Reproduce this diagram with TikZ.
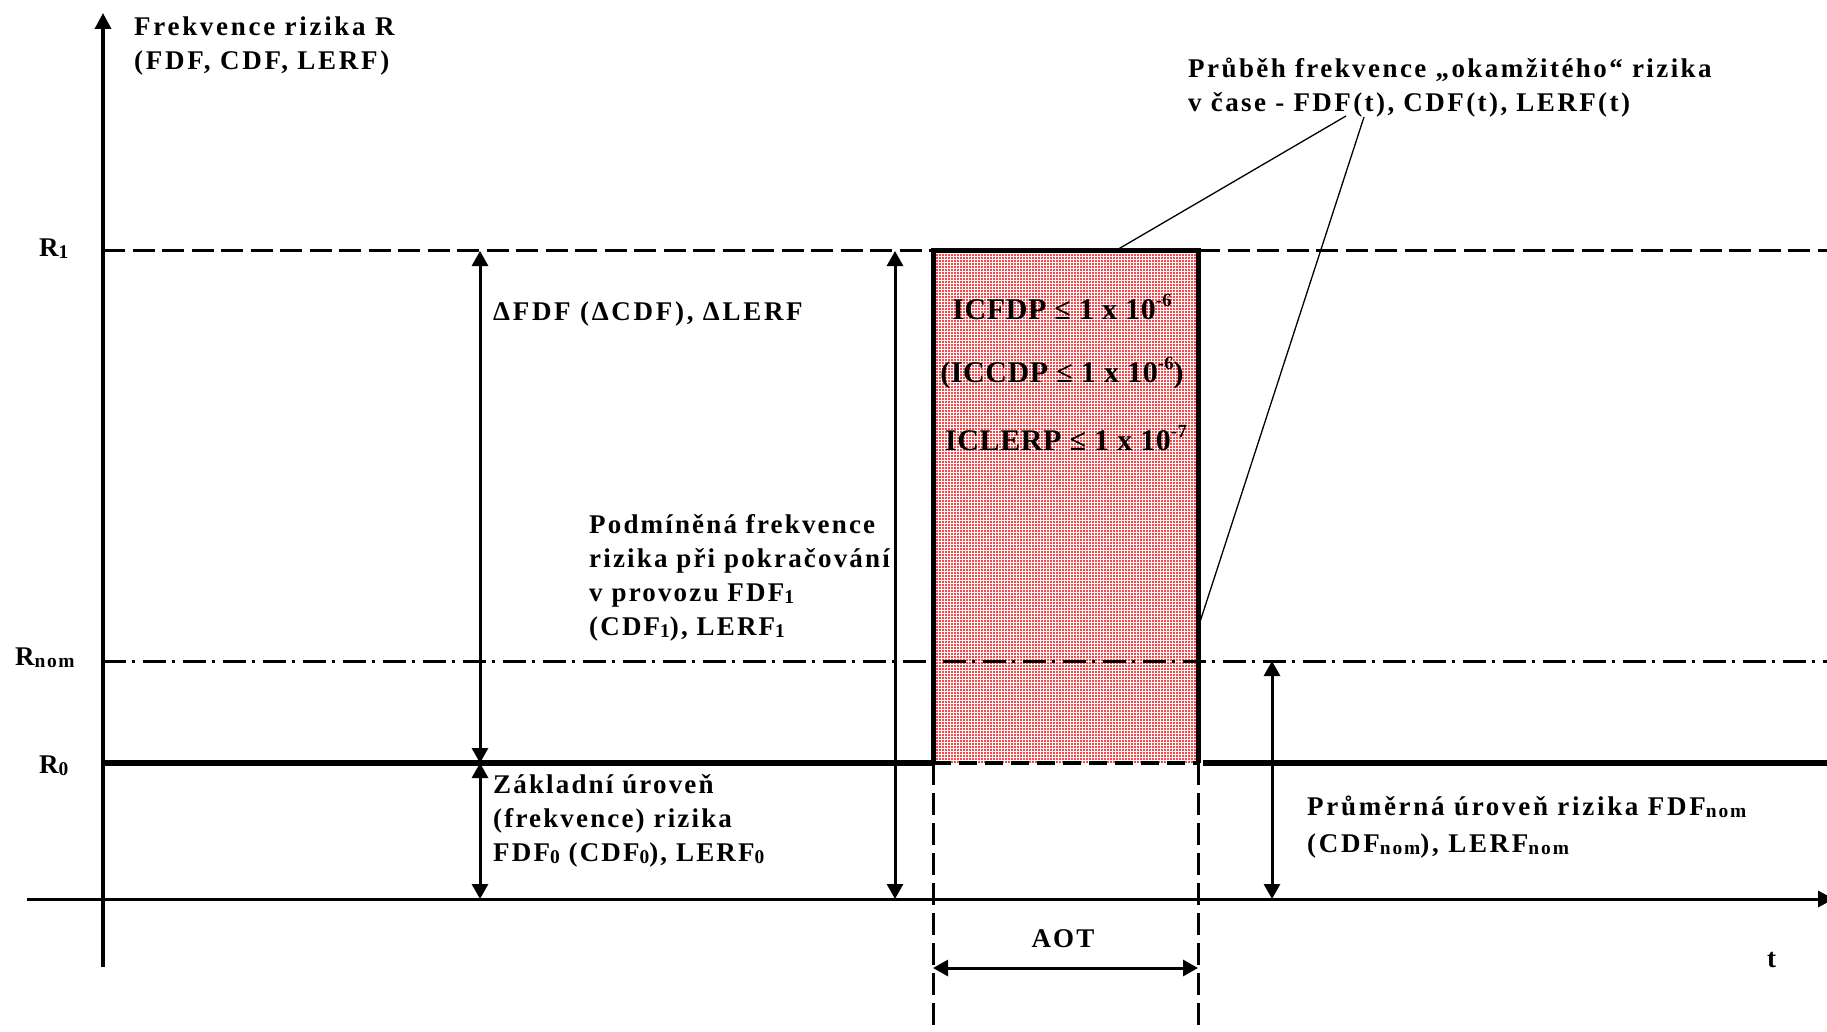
\documentclass[tikz,border=0pt]{standalone}
\usepackage{fontspec}
\setmainfont{Liberation Serif}
\usetikzlibrary{arrows.meta}

% small lowered / raised indices set in the running text font
\newcommand\lowidx[1]{\raisebox{-0.2ex}{\scalebox{0.72}{#1}}}
\newcommand\highidx[1]{\raisebox{0.9ex}{\scalebox{0.62}{#1}}}
% multi-line label whose reference point is the first baseline
\newcommand\rows[1]{\begin{tabular}[t]{@{}l@{}}#1\end{tabular}}

\definecolor{boxred}{RGB}{250,70,70}

\begin{document}
\begin{tikzpicture}[x=1pt,y=-1pt,
  axisline/.style={line width=3.5pt},
  level/.style={line width=6pt},
  dashlevel/.style={line width=3pt, dash pattern=on 22pt off 7.5pt},
  nomlevel/.style={line width=3pt, dash pattern=on 23pt off 6pt on 3pt off 8pt},
  guide/.style={line width=3pt, dash pattern=on 22pt off 8pt},
  boxedge/.style={line width=5pt, line join=miter},
  dim/.style={line width=3pt, {Triangle[length=15pt,width=16pt]}-{Triangle[length=15pt,width=16pt]}},
  leader/.style={line width=1.3pt},
  lbl/.style={inner sep=0pt, anchor=base west,
    font=\bfseries\fontsize{27}{34}\selectfont\addfontfeatures{LetterSpace=8}},
  widelbl/.style={lbl, font=\bfseries\fontsize{27}{34}\selectfont\addfontfeatures{LetterSpace=10}},
  boxtxt/.style={inner sep=0pt, anchor=base,
    font=\bfseries\fontsize{30}{34}\selectfont\addfontfeatures{LetterSpace=2}},
]
\useasboundingbox (0,0) rectangle (1827,1032);

% key points
\coordinate (Ybot) at (103,967);
\coordinate (Ytop) at (103,13);
\coordinate (Xl) at (27,899);
\coordinate (Xr) at (1834,899);
\coordinate (R1l) at (103,251);
\coordinate (R1r) at (1827,251);
\coordinate (Rnl) at (103,661);
\coordinate (Rnr) at (1827,661);
\coordinate (R0l) at (103,763);
\coordinate (R0m) at (1203,763);
\coordinate (R0r) at (1827,763);
\coordinate (BL) at (933,763);
\coordinate (TL) at (933,251);
\coordinate (TR) at (1198,251);
\coordinate (BR) at (1198,763);
\coordinate (GL) at (933,1032);
\coordinate (GR) at (1198,1032);

% the shaded interval
\fill[boxred] (BL) rectangle (TR);
\foreach \x in {935,938,...,1196} \draw[white, line width=0.6pt] (\x,251) -- (\x,763);
\foreach \y in {253,256,...,762} \draw[white, line width=0.6pt] (933,\y) -- (1198,\y);

% axes
\draw[axisline, -{Triangle[length=16pt,width=16pt]}] (Ybot) -- (Ytop);
\draw[line width=3pt, -{Triangle[length=16pt,width=16pt]}] (Xl) -- (Xr);

% risk levels
\draw[dashlevel] (R1l) -- (TL);
\draw[dashlevel] (TR) -- (R1r);
\draw[nomlevel] (Rnl) -- (Rnr);
\draw[level] (R0l) -- (BL);
\draw[level] (R0m) -- (R0r);

% interval outline and guides
\draw[boxedge] (BL) -- (TL) -- (TR) -- (BR);
\draw[line width=4pt, dash pattern=on 18pt off 8pt] (BL) -- (BR);
\draw[guide] (BL) -- (GL);
\draw[guide] (BR) -- (GR);

% dimension arrows
\coordinate (d1t) at (480,251);
\coordinate (d1m) at (480,763);
\coordinate (d1b) at (480,899);
\coordinate (d2t) at (895,251);
\coordinate (d2b) at (895,899);
\coordinate (d3t) at (1272,661);
\coordinate (d3b) at (1272,899);
\coordinate (aL) at (933,968);
\coordinate (aR) at (1198,968);
\draw[dim] (d1t) -- (d1m);
\draw[dim] (d1m) -- (d1b);
\draw[dim] (d2t) -- (d2b);
\draw[dim] (d3t) -- (d3b);
\draw[dim] (aL) -- (aR);

% labels
\node[widelbl] (ttl) at (134,36) {\rows{Frekvence rizika R\\(FDF, CDF, LERF)}};
\node[lbl] (r1) at (39,256) {R\lowidx{1}};
\node[lbl] (rnom) at (15,665) {R\lowidx{nom}};
\node[lbl] (r0) at (39,773) {R\lowidx{0}};
\node[widelbl] (dlt) at (493,320) {ΔFDF (ΔCDF), ΔLERF};
\node[lbl] (cond) at (589,533) {\rows{Podmíněná frekvence\\rizika při pokračování\\v provozu FDF\lowidx{1}\\(CDF\lowidx{1}), LERF\lowidx{1}}};
\node[lbl] (base) at (493,793) {\rows{Základní úroveň\\(frekvence) rizika\\FDF\lowidx{0} (CDF\lowidx{0}), LERF\lowidx{0}}};
\node[lbl, font=\bfseries\fontsize{27}{37}\selectfont\addfontfeatures{LetterSpace=10}] (avg) at (1307,815)
  {\rows{Průměrná úroveň rizika FDF\lowidx{nom}\\(CDF\lowidx{nom}), LERF\lowidx{nom}}};
\node[lbl, font=\bfseries\fontsize{27}{34}\selectfont\addfontfeatures{LetterSpace=9}] (inst) at (1188,78)
  {\rows{Průběh frekvence „okamžitého“ rizika\\v čase - FDF(t), CDF(t), LERF(t)}};
\node[lbl, anchor=base] (aot) at (1063,947) {AOT};
\node[lbl] (tt) at (1767,967) {t};

\node[boxtxt] (c1) at (1062,319) {ICFDP ≤ 1 x 10\highidx{-6}};
\node[boxtxt] (c2) at (1062,382) {(ICCDP ≤ 1 x 10\highidx{-6})};
\node[boxtxt] (c3) at (1066,450) {ICLERP ≤ 1 x 10\highidx{-7}};

% leaders from the caption to the risk curve
\coordinate (la) at (1346,116);
\coordinate (lb) at (1364,117);
\coordinate (hitTop) at (1115,251);
\coordinate (hitSide) at (1198,628);
\draw[leader] (la) -- (hitTop);
\draw[leader] (lb) -- (hitSide);
\end{tikzpicture}
\end{document}
